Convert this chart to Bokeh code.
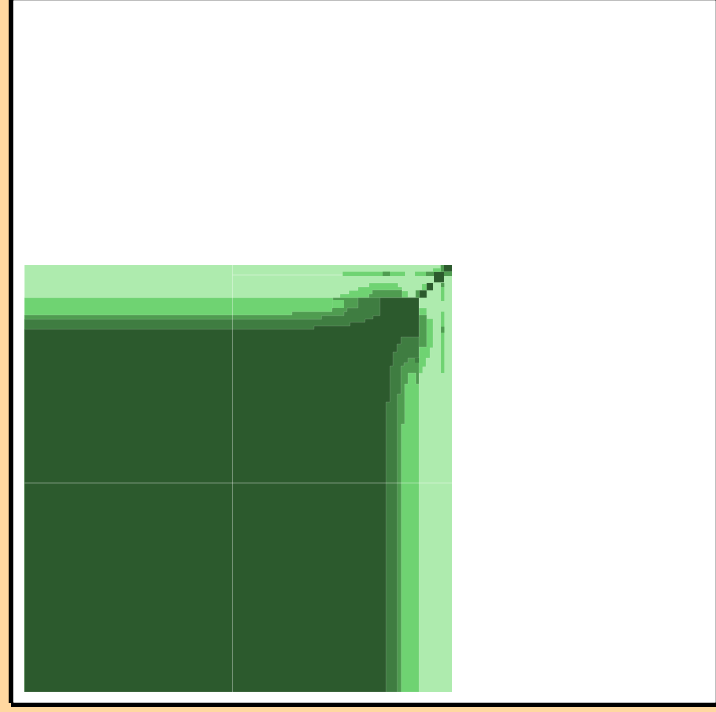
from bokeh.embed import file_html
from bokeh.models import Range1d
from bokeh.plotting import figure
from bokeh.resources import INLINE

PALETTE = ["#AEEBAE", "#6FD372", "#4F9C50", "#3F7D41", "#2C5A2D"]
EXTENT_X = 427.5
EXTENT_Y = 427.0

# contour bands: nested staircase outlines
mid_x = [0, 0, 315.5, 315.5, 324.5, 324.5, 333.5, 333.5, 344.5, 344.5, 373.5, 373.5, 377.5, 377.5, 383.5, 383.5,
         394.5, 394.5, 402.2, 402.2, 408.5, 408.5, 405.5, 405.5, 401.5, 401.5, 398.2, 398.2, 394.5, 394.5]
mid_y = [0, 394.3, 394.3, 398, 398, 401.5, 401.5, 405, 405, 409, 409, 405, 405, 401, 401, 394.3,
         394.3, 384, 384, 373.3, 373.3, 344.3, 344.3, 334, 334, 325.3, 325.3, 318.7, 318.7, 0]

middark_x = [0, 0, 267.5, 267.5, 307.5, 307.5, 308.5, 308.5, 344.5, 344.5, 347.8, 347.8, 377.5, 377.5, 394.5, 394.5,
             402.2, 402.2, 394.5, 394.5, 391.5, 391.5, 383.5, 383.5, 380.2, 380.2, 376.8, 376.8]
middark_y = [0, 377, 377, 380.3, 380.3, 384, 384, 394.3, 394.3, 398, 398, 402, 402, 394.3, 394.3, 377,
             377, 345, 345, 308, 308, 319, 319, 308, 308, 268, 268, 0]

dark_x = [0, 0, 297, 297, 319.5, 319.5, 322.5, 322.5, 333.5, 333.5, 394.5, 394.5, 383.5, 383.5, 379.5, 379.5,
          376.5, 376.5, 372.8, 372.8]
dark_y = [0, 372.7, 372.7, 376.3, 376.3, 380.3, 380.3, 384, 384, 394.3, 394.3, 334, 334, 329.3, 329.3, 326,
          326, 298, 298, 0]

darkest_x = [0, 0, 289.5, 289.5, 325.5, 325.5, 340.5, 340.5, 348.5, 348.5, 355.5, 355.5, 394.5, 394.5, 376.5, 376.5,
             372.5, 372.5, 368.5, 368.5, 365.5, 365.5, 361.5, 361.5]
darkest_y = [0, 362.7, 362.7, 366, 366, 369.7, 369.7, 373, 373, 376.3, 376.3, 394.3, 394.3, 355, 355, 348,
             348, 340, 340, 326, 326, 290, 290, 0]

# isolated tiles near the top-right corner
tile_left = [308.5, 318.2, 358.2, 390.5, 401.5, 409.5, 419.5, 416.2, 419.5, 408.5, 397.5, 402.2, 394.8, 391.2,
             416.5, 416.5, 416.5, 416.5, 390.5]
tile_right = [319.5, 380.5, 365.5, 401.5, 409.5, 419.5, 427.5, 419.5, 427.5, 416.2, 402.2, 408.5, 402.2, 394.8,
              419.8, 419.8, 419.8, 419.8, 394.5]
tile_bottom = [384, 416, 416, 416, 416, 409.7, 420.3, 420.3, 416, 420.3, 402, 401.7, 394.3, 394.3,
               319, 359.3, 391, 405, 329.3]
tile_top = [392, 420.3, 420.3, 420.3, 420.3, 420.3, 427, 427, 420.3, 423.7, 408, 409, 401.7, 401.7,
            380.3, 365.3, 405, 409, 334]
tile_level = [1, 1, 2, 1, 2, 4, 4, 2, 2, 1, 1, 4, 4, 2, 1, 2, 1, 2, 3]

# pale seams between the tiled pieces
seam_x0 = [208, 0, 208]
seam_x1 = [208, 427.5, 318]
seam_y0 = [0, 209, 417]
seam_y1 = [427, 209, 417]

p = figure(
    width=712, height=712, output_backend="svg", toolbar_location=None,
    x_range=Range1d(-11, 691), y_range=Range1d(-10.5, 691.5),
    min_border_left=5, min_border_right=5, min_border_top=5, min_border_bottom=5,
    background_fill_color="#FFFFFF", border_fill_color="#000000",
    outline_line_color=None,
)
p.axis.visible = False
p.grid.visible = False

p.quad(left=[0], right=[EXTENT_X], bottom=[0], top=[EXTENT_Y], fill_color=PALETTE[0], line_color=None)
for xs, ys, color in ((mid_x, mid_y, PALETTE[1]), (middark_x, middark_y, PALETTE[2]),
                      (dark_x, dark_y, PALETTE[3]), (darkest_x, darkest_y, PALETTE[4])):
    p.patch(xs, ys, fill_color=color, line_color="#FFFFFF", line_alpha=0.12, line_width=1)
p.quad(left=tile_left, right=tile_right, bottom=tile_bottom, top=tile_top,
       fill_color=[PALETTE[i] for i in tile_level], line_color=None)
p.segment(seam_x0, seam_y0, seam_x1, seam_y1, line_color="#FFFFFF", line_alpha=0.35, line_width=1)

html = file_html(p, INLINE)
html = html.replace(
    "</head>",
    "<style>html{background:#FFD8A0;overflow:hidden}body{margin:-5px 0 0 8px;overflow:hidden}"
    "body::before{content:'';position:fixed;left:13px;top:0;right:0;height:703px;background:#fff;z-index:-1}"
    "body::after{content:'';position:fixed;left:8px;top:703px;width:3px;height:6px;background:#FFD8A0;z-index:10}"
    "</style></head>",
)
open("out.html", "w").write(html)
